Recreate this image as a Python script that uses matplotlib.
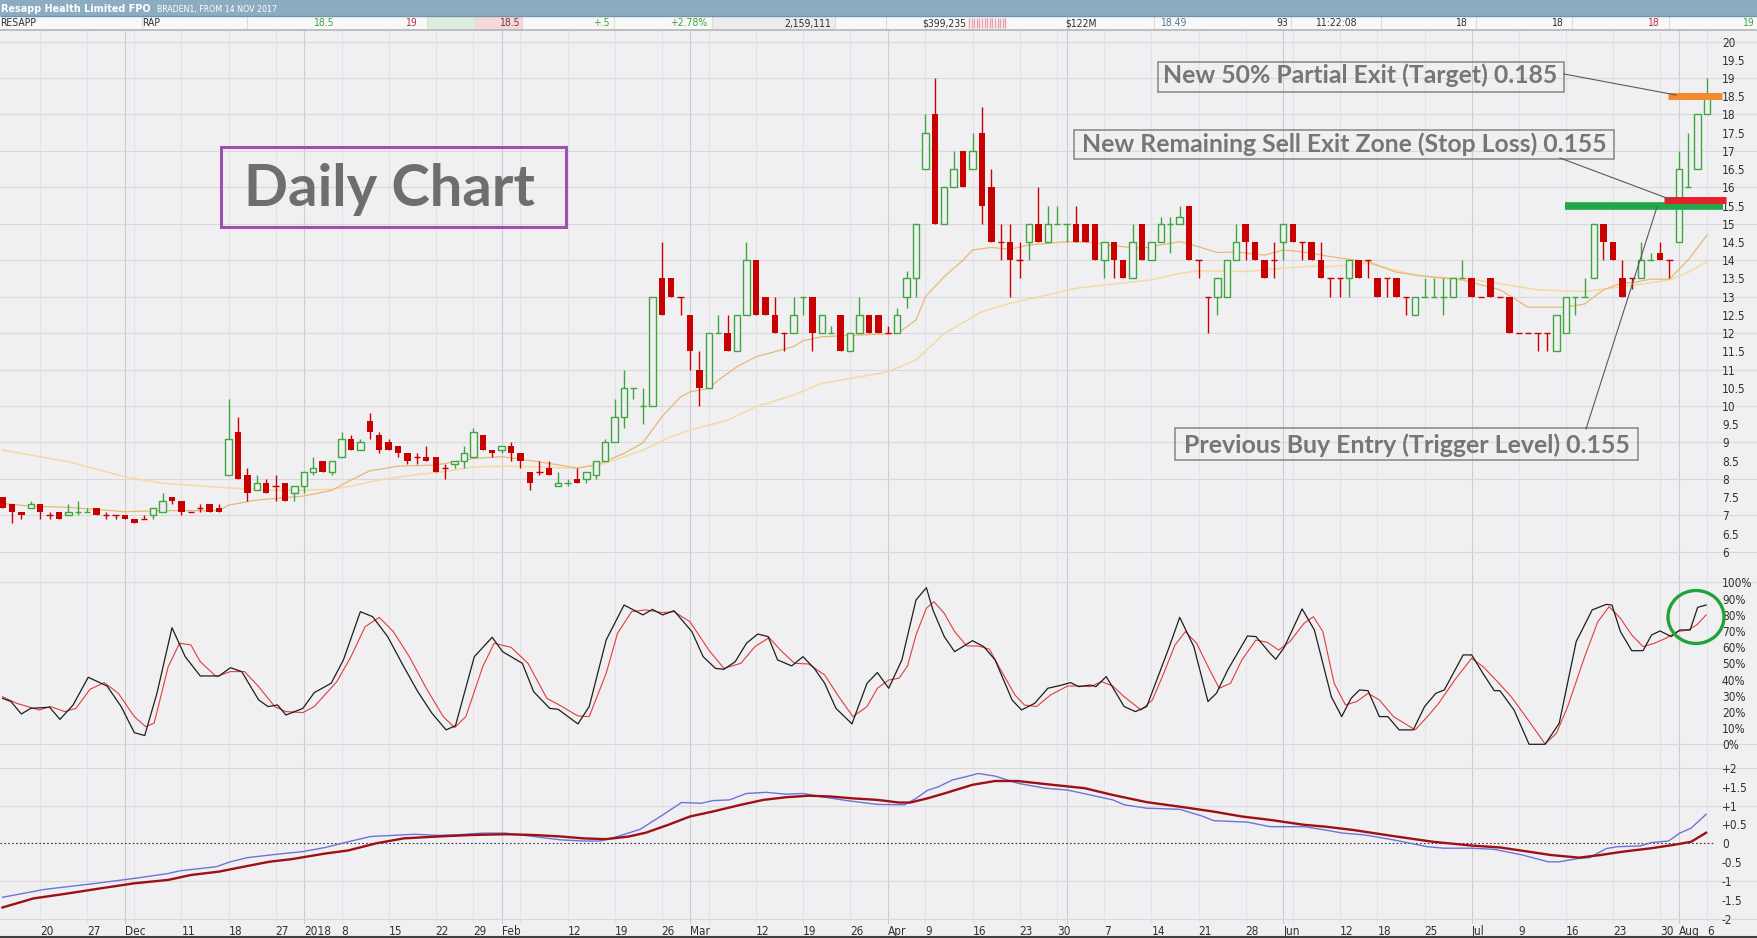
import numpy as np
import pandas as pd
import matplotlib
matplotlib.use('Agg')
import matplotlib.pyplot as plt
from matplotlib import font_manager
from matplotlib.patches import Rectangle, Ellipse
from matplotlib.ticker import FuncFormatter

# ASX trading days shown on the chart
holidays = ['2017-12-25', '2017-12-26', '2018-01-01', '2018-01-26',
            '2018-03-30', '2018-04-02', '2018-04-25', '2018-06-11']
days = pd.bdate_range('2017-11-14', '2018-08-06')
days = days[~days.isin(pd.to_datetime(holidays))]

# daily candles (cents)
opens = [7.5, 7.3, 7.1, 7.2, 7.3, 7.0, 7.1, 7.0, 7.1, 7.1,
         7.2, 7.0, 7.0, 7.0, 6.9, 6.9, 7.0, 7.1, 7.5, 7.4,
         7.1, 7.2, 7.3, 7.2, 8.1, 9.3, 8.1, 7.7, 7.9, 7.8,
         7.9, 7.6, 7.8, 8.2, 8.5, 8.2, 8.6, 9.1, 8.8, 9.6,
         9.2, 9.0, 8.9, 8.7, 8.6, 8.6, 8.6, 8.3, 8.4, 8.5,
         8.6, 9.2, 8.8, 8.8, 8.9, 8.7, 8.2, 8.2, 8.3, 7.8,
         7.9, 8.0, 8.0, 8.1, 8.5, 9.0, 9.7, 10.5, 10.0, 10.0,
         13.5, 13.5, 13.0, 12.5, 11.0, 10.5, 12.0, 12.0, 11.5, 12.5,
         14.0, 13.0, 12.5, 12.0, 12.0, 13.0, 13.0, 12.0, 12.0, 12.5,
         11.5, 12.0, 12.5, 12.5, 12.0, 12.0, 13.0, 13.5, 16.5, 18.0,
         15.0, 16.0, 17.0, 16.5, 17.5, 16.0, 14.5, 14.5, 14.0, 14.5,
         15.0, 14.5, 15.0, 15.0, 15.0, 15.0, 15.0, 14.0, 14.5, 14.0,
         13.5, 15.0, 14.0, 14.5, 15.0, 15.0, 15.5, 14.0, 13.0, 13.0,
         13.0, 14.0, 15.0, 14.5, 14.0, 14.0, 14.5, 15.0, 14.5, 14.5,
         14.0, 13.5, 13.5, 13.5, 14.0, 14.0, 13.5, 13.5, 13.5, 13.0,
         12.5, 13.0, 13.0, 13.0, 13.0, 13.5, 13.5, 13.0, 13.5, 13.0,
         13.0, 12.0, 12.0, 12.0, 12.0, 11.5, 12.0, 13.0, 13.0, 13.5,
         15.0, 14.5, 13.5, 13.5, 13.5, 14.0, 14.2, 14.0, 14.5, 16.0,
         16.5, 18.0]
highs = [7.5, 7.3, 7.1, 7.4, 7.3, 7.1, 7.1, 7.3, 7.4, 7.2,
         7.2, 7.1, 7.0, 7.0, 6.9, 7.0, 7.2, 7.6, 7.5, 7.4,
         7.1, 7.3, 7.3, 7.3, 10.2, 9.7, 8.3, 8.1, 8.0, 8.1,
         7.9, 7.8, 8.2, 8.6, 8.5, 8.5, 9.3, 9.2, 9.1, 9.8,
         9.3, 9.1, 8.9, 8.7, 8.7, 8.9, 8.6, 8.4, 8.5, 8.9,
         9.4, 9.2, 8.8, 8.9, 9.0, 8.7, 8.2, 8.5, 8.5, 8.2,
         8.0, 8.3, 8.2, 8.5, 9.1, 10.2, 11.0, 10.5, 10.5, 13.0,
         14.5, 13.5, 13.0, 12.5, 11.5, 12.0, 12.5, 12.5, 12.5, 14.5,
         14.0, 13.0, 13.0, 12.0, 13.0, 13.0, 13.0, 12.5, 12.2, 12.5,
         12.0, 13.0, 12.5, 12.5, 12.2, 12.7, 13.7, 15.0, 18.0, 19.0,
         16.0, 17.0, 17.0, 17.5, 18.2, 16.5, 15.0, 15.0, 14.5, 15.0,
         16.0, 15.5, 15.5, 15.0, 15.5, 15.0, 15.0, 14.5, 14.5, 14.0,
         15.0, 15.0, 14.5, 15.2, 15.2, 15.5, 15.5, 14.0, 13.0, 13.5,
         14.0, 15.0, 15.0, 14.5, 14.0, 14.5, 15.0, 15.0, 14.5, 14.5,
         14.5, 13.5, 13.5, 14.0, 14.0, 14.0, 13.5, 13.5, 13.5, 13.0,
         13.0, 13.5, 13.5, 13.5, 13.5, 14.0, 13.5, 13.0, 13.5, 13.0,
         13.0, 12.0, 12.0, 12.0, 12.0, 12.5, 13.0, 13.0, 13.5, 15.0,
         15.0, 14.5, 14.0, 13.5, 14.5, 14.2, 14.5, 14.0, 17.0, 17.5,
         18.0, 19.0]
lows = [7.2, 6.8, 6.9, 7.2, 6.9, 6.9, 6.9, 7.0, 7.0, 7.1,
        7.0, 6.9, 6.9, 6.9, 6.8, 6.9, 6.9, 7.1, 7.3, 7.0,
        7.1, 7.1, 7.1, 7.1, 8.1, 8.0, 7.4, 7.7, 7.6, 7.4,
        7.4, 7.4, 7.6, 8.1, 8.2, 8.1, 8.6, 8.8, 8.8, 9.1,
        8.7, 8.8, 8.6, 8.4, 8.4, 8.5, 8.2, 8.0, 8.3, 8.3,
        8.6, 8.8, 8.6, 8.7, 8.5, 8.3, 7.7, 8.1, 8.1, 7.8,
        7.8, 7.9, 7.9, 8.0, 8.5, 9.0, 9.4, 10.2, 9.5, 10.0,
        12.5, 13.0, 12.5, 11.0, 10.0, 10.5, 12.0, 11.5, 11.5, 12.5,
        12.5, 12.5, 12.0, 11.5, 12.0, 12.5, 11.5, 12.0, 12.0, 11.5,
        11.5, 12.0, 12.0, 12.0, 12.0, 12.0, 12.7, 13.0, 16.5, 15.0,
        15.0, 16.0, 16.0, 16.5, 15.0, 14.5, 14.0, 13.0, 13.5, 14.0,
        14.5, 14.5, 15.0, 14.5, 14.5, 14.5, 14.0, 13.5, 13.5, 13.5,
        13.5, 14.0, 14.0, 14.5, 14.2, 15.0, 14.0, 13.5, 12.0, 12.5,
        13.0, 14.0, 14.0, 14.0, 13.5, 13.5, 14.0, 14.5, 14.0, 14.0,
        13.5, 13.0, 13.0, 13.0, 13.5, 13.5, 13.0, 13.0, 13.0, 12.5,
        12.5, 13.0, 13.0, 12.5, 13.0, 13.5, 13.0, 13.0, 13.0, 13.0,
        12.0, 12.0, 12.0, 11.5, 11.5, 11.5, 12.0, 12.5, 13.0, 13.5,
        14.0, 14.0, 13.0, 13.2, 13.5, 14.0, 14.0, 13.5, 14.5, 16.0,
        16.5, 18.0]
closes = [7.2, 7.1, 7.0, 7.3, 7.1, 7.0, 6.9, 7.1, 7.1, 7.1,
          7.0, 7.0, 7.0, 6.9, 6.8, 6.9, 7.2, 7.4, 7.4, 7.1,
          7.1, 7.2, 7.1, 7.1, 9.1, 8.0, 7.6, 7.9, 7.6, 7.8,
          7.4, 7.8, 8.2, 8.3, 8.2, 8.5, 9.1, 8.8, 9.0, 9.3,
          8.8, 8.8, 8.7, 8.5, 8.6, 8.5, 8.2, 8.3, 8.5, 8.7,
          9.3, 8.8, 8.7, 8.9, 8.7, 8.5, 7.9, 8.2, 8.1, 7.9,
          7.9, 7.9, 8.2, 8.5, 9.0, 9.7, 10.5, 10.5, 10.0, 13.0,
          12.5, 13.0, 13.0, 11.5, 10.5, 12.0, 12.0, 11.5, 12.5, 14.0,
          12.5, 12.5, 12.0, 12.0, 12.5, 13.0, 12.0, 12.5, 12.0, 11.5,
          12.0, 12.5, 12.0, 12.0, 12.0, 12.5, 13.5, 15.0, 17.5, 15.0,
          16.0, 16.5, 16.0, 17.0, 15.5, 14.5, 14.5, 14.0, 14.0, 15.0,
          14.5, 15.0, 15.0, 15.0, 14.5, 14.5, 14.0, 14.5, 14.0, 13.5,
          14.5, 14.0, 14.5, 15.0, 15.0, 15.2, 14.0, 14.0, 13.0, 13.5,
          14.0, 14.5, 14.5, 14.0, 13.5, 14.0, 15.0, 14.5, 14.5, 14.0,
          13.5, 13.5, 13.5, 14.0, 13.5, 14.0, 13.0, 13.5, 13.0, 13.0,
          13.0, 13.0, 13.0, 13.0, 13.5, 13.5, 13.0, 13.0, 13.0, 13.0,
          12.0, 12.0, 12.0, 12.0, 12.0, 12.5, 13.0, 13.0, 13.0, 15.0,
          14.5, 14.0, 13.0, 13.5, 14.0, 14.0, 14.0, 14.0, 16.5, 16.0,
          18.0, 18.5]
# unchanged-price days that the chart draws in green
doji_up = [8, 9, 60, 67, 68, 76, 85, 88, 112, 113, 124, 151, 152, 153,
           155, 167, 168, 175, 179]

# moving averages (day index, cents)
fast_ma_x = [0, 3, 7, 13, 17, 23, 24, 27, 32, 35, 37, 39, 42, 46, 50, 53, 57, 61, 63, 66,
             68, 70, 72, 73, 75, 76, 78, 80, 82, 84, 85, 87, 91, 93, 95, 97, 98, 100, 102, 103,
             105, 107, 109, 113, 116, 119, 121, 123, 125, 127, 129, 131, 134, 136, 138, 141, 145, 148, 152, 155,
             159, 162, 166, 168, 170, 172, 173, 175, 177, 179, 181]
fast_ma = [7.33, 7.25, 7.22, 7.10, 7.13, 7.13, 7.28, 7.42, 7.53, 7.69, 7.97, 8.22, 8.35, 8.38, 8.56, 8.61, 8.47, 8.30, 8.38, 8.70,
           8.99, 9.70, 10.25, 10.39, 10.48, 10.71, 11.08, 11.35, 11.49, 11.63, 11.79, 11.90, 11.95, 11.97, 11.99, 12.36, 13.0, 13.55, 14.0, 14.28,
           14.35, 14.30, 14.42, 14.51, 14.48, 14.37, 14.33, 14.42, 14.51, 14.37, 14.21, 14.23, 14.14, 14.28, 14.23, 14.10, 13.96, 13.67, 13.53, 13.46,
           13.19, 12.71, 12.71, 12.80, 13.19, 13.38, 13.38, 13.48, 13.48, 14.01, 14.69]
slow_ma_x = [0, 7, 13, 17, 23, 28, 32, 35, 37, 40, 44, 47, 50, 54, 57, 61, 64, 68, 71, 73,
             77, 80, 84, 87, 91, 94, 97, 100, 104, 107, 111, 114, 118, 122, 125, 127, 132, 136, 139, 141,
             145, 150, 156, 163, 168, 171, 175, 177, 179, 181]
slow_ma = [8.79, 8.47, 8.06, 7.88, 7.77, 7.69, 7.69, 7.72, 7.80, 7.97, 8.12, 8.20, 8.33, 8.35, 8.33, 8.29, 8.43, 8.79, 9.16, 9.34,
           9.61, 9.98, 10.30, 10.62, 10.80, 10.94, 11.26, 11.99, 12.59, 12.82, 13.05, 13.23, 13.35, 13.46, 13.64, 13.71, 13.69, 13.78, 13.84, 13.82,
           13.92, 13.58, 13.48, 13.19, 13.14, 13.24, 13.38, 13.46, 13.67, 13.96]

# stochastic %K / %D (day index, percent)
stoch_k_x = [0, 0.9, 2.0, 3.0, 5.0, 6.1, 7.5, 9.1, 11.1, 12.6, 14.0, 15.1, 16.4, 18.0, 19.4, 21.0, 23.0, 24.2, 25.4, 27.2,
             28.2, 29.2, 30.1, 31.9, 33.1, 34.9, 36.2, 38.0, 39.3, 40.9, 42.6, 44.1, 45.6, 47.1, 48.1, 50.1, 52.0, 53.1, 55.2, 56.4,
             58.1, 59.0, 61.1, 62.3, 64.1, 66.0, 68.0, 69.0, 70.1, 71.3, 73.2, 74.4, 75.7, 76.6, 77.8, 79.0, 80.2, 81.3, 82.3, 83.8,
             85.0, 86.2, 87.3, 88.5, 90.2, 91.8,
             92.9, 94.1, 95.5, 97.0, 98.1, 98.8, 100.0, 101.1, 103.0, 104.2, 105.4, 107.2, 108.2, 109.6, 111.0, 112.5, 113.4, 114.3, 115.5, 116.1,
             117.2, 119.1, 120.3, 121.5, 123.9, 125.0, 126.5, 128.0, 128.9, 130.1, 132.2, 133.1, 134.6, 135.2, 136.1, 138.0, 139.3, 141.1, 142.2, 143.2,
             144.1, 145.0, 146.2, 147.1, 148.3, 149.8, 151.0, 152.2, 153.1, 155.1, 156.0, 157.2, 158.4, 159.0, 160.5, 162.1, 163.8, 165.3, 167.1, 168.8,
             170.3, 170.9, 171.8, 173.0, 174.2, 175.1, 176.0, 177.2, 178.1, 179.2, 180.0, 180.9]
stoch_k = [28.4, 26.4, 18.7, 22.2, 22.9, 15.4, 24.3, 41.4, 36.0, 23.3, 7.2, 5.4, 31.5, 72.0, 54.1, 42.2, 42.2, 47.3, 44.9, 27.4,
           23.3, 24.3, 18.1, 22.2, 31.9, 37.7, 52.1, 81.9, 78.8, 66.5, 48.0, 32.5, 19.2, 8.9, 11.5, 54.1, 66.1, 57.2, 50.0, 32.5,
           22.2, 21.6, 12.6, 23.3, 64.4, 86.0, 79.9, 83.3, 79.9, 82.5, 69.6, 54.1, 46.9, 46.3, 51.0, 62.4, 68.1, 66.5, 52.1, 48.4,
           54.1, 46.9, 37.7, 22.2, 12.6, 37.7,
           44.3, 34.6, 52.1, 89.1, 96.7, 82.9, 66.5, 57.2, 64.0, 60.3, 52.1, 27.4, 21.2, 25.3, 34.6, 36.6, 38.1, 35.6, 36.6, 35.6,
           41.8, 23.3, 20.2, 23.3, 60.3, 78.4, 60.3, 26.4, 31.5, 45.9, 66.9, 66.5, 56.2, 52.5, 59.9, 83.6, 70.6, 29.4, 17.1, 28.4,
           33.6, 33.1, 17.1, 17.1, 8.9, 8.9, 23.3, 31.5, 33.6, 55.2, 55.2, 43.8, 33.1, 33.1, 21.2, 0.0, 0.0, 13.0, 63.4, 83.0,
           86.4, 86.0, 69.6, 57.8, 57.8, 67.5, 70.0, 66.5, 70.6, 70.6, 84.6, 86.0]
stoch_d_x = [0, 1.5, 3.9, 5.1, 6.6, 7.8, 9.3, 10.8, 12.3, 14.0, 15.2, 16.1, 17.6, 18.8, 20.0, 21.0, 22.7, 24.2, 25.7, 27.2,
             28.9, 30.1, 31.9, 33.1, 35.5, 37.0, 38.5, 40.0, 41.5, 43.2, 45.0, 46.8, 48.0, 49.2, 51.0, 52.2, 54.0, 55.8, 57.8, 59.3,
             61.1, 62.3, 64.1, 65.3, 66.8, 68.3, 70.1, 71.3, 73.0, 75.0, 76.6, 78.4, 79.9, 81.4, 82.6, 84.1, 85.6, 87.3, 88.8, 90.3,
             91.8,
             92.9, 94.1, 95.2, 96.1, 97.0, 98.1, 98.9, 100.0, 101.1, 102.4, 103.6, 104.8, 106.0, 107.5, 108.5, 109.8, 111.3, 113.1, 114.3, 115.5,
             116.7, 117.9, 119.1, 120.9, 122.1, 123.3, 124.5, 125.6, 126.8, 128.0, 129.2, 130.4, 131.6, 133.1, 134.3, 135.5, 136.7, 138.2, 139.2, 140.2,
             141.4, 142.6, 143.8, 145.0, 146.2, 147.7, 150.0, 151.3, 152.5, 154.2, 156.0, 157.2, 158.4, 160.2, 162.0, 163.8, 165.0, 166.2, 168.0, 169.4,
             170.6, 171.8, 173.0, 174.2, 175.4, 176.6, 177.8, 179.0, 179.9, 180.9]
stoch_d = [29.4, 25.3, 21.2, 23.3, 20.2, 22.2, 34.0, 38.1, 31.5, 17.1, 10.9, 13.0, 48.0, 62.4, 61.4, 51.0, 41.8, 44.9, 44.9, 35.6,
           23.3, 20.2, 19.6, 23.3, 38.7, 54.1, 72.6, 78.4, 69.6, 54.1, 34.6, 17.1, 10.3, 17.1, 48.0, 62.4, 59.9, 50.0, 28.4, 23.7,
           17.5, 17.1, 43.8, 68.5, 81.9, 83.0, 81.3, 81.9, 75.7, 58.2, 46.9, 50.0, 60.3, 65.9, 58.2, 50.0, 49.6, 42.8, 29.4, 17.1,
           23.3,
           34.6, 39.7, 40.8, 48.4, 67.5, 84.0, 88.1, 80.9, 69.6, 60.7, 60.7, 58.7, 45.9, 30.5, 24.3, 23.3, 30.5, 36.0, 36.0, 35.6,
           38.7, 36.0, 29.4, 21.2, 27.4, 43.8, 61.3, 69.6, 62.4, 48.0, 34.6, 37.7, 52.1, 64.4, 63.0, 58.2, 63.4, 74.7, 78.8, 69.6,
           37.7, 24.3, 26.4, 31.5, 27.4, 17.1, 8.9, 17.1, 25.3, 39.7, 53.1, 48.0, 40.8, 29.4, 15.0, 0.2, 6.8, 23.3, 54.1, 75.7,
           85.0, 77.8, 67.5, 60.3, 62.4, 65.4, 69.6, 70.6, 73.7, 79.9]

# MACD and signal (day index, value)
macd_x = [0, 4.5, 9.3, 14.0, 17.6, 18.8, 22.7, 24.2, 26.0, 29.5, 31.9, 34.3, 36.7, 39.1, 41.5, 43.8, 46.2, 48.6, 51.0, 53.4,
          56.4, 59.3, 61.7, 63.5, 65.3, 67.7, 70.1, 72.1, 74.2, 75.4, 77.2, 79.0, 81.1, 83.2, 85.0, 87.3, 89.7,
          92.9, 95.8, 97.0, 98.2, 99.4, 100.9, 102.4, 103.6, 105.4, 107.8, 110.7, 113.1, 115.5, 117.9, 119.1, 121.5, 125.0, 127.4, 128.6, 132.2,
          134.6, 138.2, 140.5, 142.3, 144.7, 147.7, 151.3, 153.1, 156.0, 158.4, 161.4, 164.1, 165.3, 167.4, 168.5, 170.3, 171.5, 173.9, 175.1, 176.9,
          178.1, 179.3, 180.9]
macd = [-1.43, -1.22, -1.08, -0.93, -0.80, -0.73, -0.62, -0.49, -0.38, -0.28, -0.22, -0.11, 0.04, 0.18, 0.21, 0.24, 0.21, 0.23, 0.27, 0.27,
        0.18, 0.09, 0.06, 0.06, 0.18, 0.37, 0.75, 1.08, 1.06, 1.13, 1.15, 1.32, 1.35, 1.30, 1.32, 1.22, 1.13,
        1.03, 1.02, 1.19, 1.40, 1.50, 1.68, 1.77, 1.85, 1.78, 1.59, 1.46, 1.41, 1.28, 1.15, 1.02, 0.93, 0.90, 0.72, 0.60, 0.56,
        0.44, 0.44, 0.35, 0.27, 0.22, 0.09, -0.09, -0.13, -0.13, -0.16, -0.31, -0.49, -0.49, -0.40, -0.38, -0.14, -0.09, -0.07, 0.02, 0.06,
        0.27, 0.40, 0.77]
signal_x = [0, 3.3, 6.9, 10.5, 14.0, 17.6, 20.0, 23.0, 24.8, 28.3, 30.7, 34.3, 36.7, 39.7, 42.6, 46.2, 49.8, 53.4, 56.4, 59.3,
            61.7, 64.1, 66.5, 68.3, 70.7, 73.0, 75.4, 78.4, 80.8, 83.2, 85.6, 87.9, 90.3,
            92.9, 95.2, 96.4, 98.2, 100.0, 103.0, 105.4, 107.8, 110.7, 114.9, 117.9, 121.5, 125.0, 128.6, 131.6, 134.6, 138.2, 140.5,
            143.5, 147.7, 151.9, 156.0, 159.0, 162.0, 164.4, 167.4, 169.7, 172.1, 175.1, 177.5, 179.3, 180.9]
signal = [-1.70, -1.46, -1.33, -1.19, -1.06, -0.97, -0.84, -0.75, -0.66, -0.49, -0.42, -0.27, -0.19, 0.0, 0.13, 0.18, 0.22, 0.24, 0.22, 0.18,
          0.13, 0.11, 0.18, 0.28, 0.49, 0.71, 0.84, 1.02, 1.15, 1.22, 1.26, 1.24, 1.19,
          1.15, 1.08, 1.08, 1.19, 1.32, 1.55, 1.65, 1.65, 1.57, 1.46, 1.28, 1.09, 0.97, 0.84, 0.71, 0.62, 0.49, 0.44,
          0.35, 0.19, 0.04, -0.06, -0.11, -0.22, -0.31, -0.38, -0.31, -0.22, -0.13, -0.04, 0.04, 0.28]

# date axis labels
tick_dates = ['2017-11-20', '2017-11-27', '2017-12-01', '2017-12-11', '2017-12-18', '2017-12-27',
              '2018-01-02', '2018-01-08', '2018-01-15', '2018-01-22', '2018-01-29', '2018-02-01',
              '2018-02-12', '2018-02-19', '2018-02-26', '2018-03-01', '2018-03-12', '2018-03-19',
              '2018-03-26', '2018-04-03', '2018-04-09', '2018-04-16', '2018-04-23', '2018-04-30',
              '2018-05-07', '2018-05-14', '2018-05-21', '2018-05-28', '2018-06-01', '2018-06-12',
              '2018-06-18', '2018-06-25', '2018-07-02', '2018-07-09', '2018-07-16', '2018-07-23',
              '2018-07-30', '2018-08-01', '2018-08-06']
tick_labels = ['20', '27', 'Dec', '11', '18', '27', '2018', '8', '15', '22', '29', 'Feb', '12', '19',
               '26', 'Mar', '12', '19', '26', 'Apr', '9', '16', '23', '30', '7', '14', '21', '28',
               'Jun', '12', '18', '25', 'Jul', '9', '16', '23', '30', 'Aug', '6']

# trade levels marked on the chart
target_level = 18.5
stop_level = 15.5
entry_level = 15.5

# quote strip
quote_right = ['18.5', '19', '18.5', '+.5', '+2.78%', '2,159,111', '$399,235', '$122M',
               '18.49', '93', '18', '18', '18', '19']

BG = '#F0F0F2'
GRID = '#D8D8DD'
MGRID = '#CCCCD1'
WGRID = '#E3E3E7'
RED = '#C80000'
GREEN = '#3DA63D'
LABEL = '#303030'

names = {f.name for f in font_manager.fontManager.ttflist}
NARROW = 'Liberation Sans Narrow' if 'Liberation Sans Narrow' in names else 'DejaVu Sans'
ANN = 'Lato' if 'Lato' in names else 'DejaVu Sans'
plt.rcParams['font.family'] = [NARROW, 'DejaVu Sans']
plt.rcParams['font.stretch'] = 'condensed'

x = np.arange(len(closes))
o, h, l, c = (np.array(v) for v in (opens, highs, lows, closes))
month_idx = np.flatnonzero(np.r_[False, days.month[1:] != days.month[:-1]])
week_idx = np.flatnonzero(np.r_[False, np.diff(days.dayofweek) < 0])
tick_idx = days.get_indexer(pd.to_datetime(tick_dates))

W, H = 1757.0, 938.0
fig = plt.figure(figsize=(W / 100, H / 100), dpi=100)
fig.patch.set_facecolor(BG)


def panel(top, bottom):
    a = fig.add_axes([0, 1 - bottom / H, 1, (bottom - top) / H])
    a.set_facecolor(BG)
    a.set_xlim(-0.265, 186.3)
    for s in a.spines.values():
        s.set_visible(False)
    a.yaxis.tick_right()
    a.tick_params(axis='y', length=0, pad=-25.2, labelsize=8.5, labelcolor=LABEL)
    a.tick_params(axis='x', length=0)
    a.set_xticks([])
    for w in week_idx:
        if w not in month_idx:
            a.axvline(w, color=WGRID, lw=0.8, zorder=0)
    for m in month_idx:
        a.axvline(m, color=MGRID, lw=0.8, zorder=0)
    return a


# price panel
ax_p = panel(31, 566)
ax_p.set_ylim(5.61, 20.29)
ax_p.set_yticks(np.arange(6, 20.01, 0.5))
ax_p.yaxis.set_major_formatter(FuncFormatter(lambda v, _: f'{v:g}'))
for v in range(6, 21):
    ax_p.axhline(v, color=GRID, lw=0.8, zorder=0)

ax_p.plot(slow_ma_x, slow_ma, color='#F4D9A2', lw=1.1, zorder=2)
ax_p.plot(fast_ma_x, fast_ma, color='#E6B878', lw=0.9, zorder=2)

flat = o == c
up = (c > o) | (flat & np.isin(x, doji_up))
col = np.where(up, GREEN, RED)
ax_p.vlines(x, l, h, colors=col, lw=1.0, zorder=3)
gb = up & ~flat
rb = ~up & ~flat
ax_p.bar(x[gb], (c - o)[gb], bottom=o[gb], width=0.68, facecolor=BG,
         edgecolor=GREEN, lw=1.0, zorder=4)
ax_p.bar(x[rb], (o - c)[rb], bottom=c[rb], width=0.68, color=RED, lw=0, zorder=4)
ax_p.hlines(o[flat], x[flat] - 0.34, x[flat] + 0.34, colors=col[flat], lw=1.0, zorder=4)

ax_p.hlines(entry_level, 165.9, 182.7, color='#22A64A', lw=5.5, zorder=6)
ax_p.hlines(stop_level + 0.14, 176.4, 183.0, color='#E5202A', lw=5, zorder=7)
ax_p.hlines(target_level, 176.8, 182.6, color='#F28A30', lw=5, zorder=7)

# stochastic panel
ax_s = panel(566, 757)
ax_s.set_ylim(-7.84, 110.1)
ax_s.set_yticks(range(0, 101, 10))
ax_s.yaxis.set_major_formatter(FuncFormatter(lambda v, _: f'{v:g}%'))
for v in (0, 100):
    ax_s.axhline(v, color=GRID, lw=0.8, zorder=0)
ax_s.plot(stoch_d_x, stoch_d, color='#E23C3C', lw=0.8, zorder=3)
ax_s.plot(stoch_k_x, stoch_k, color='#1E1E1E', lw=0.9, zorder=4)

# MACD panel
ax_m = panel(757, 924)
ax_m.set_ylim(-2.138, 2.286)
ax_m.set_yticks(np.arange(-2, 2.01, 0.5))
ax_m.yaxis.set_major_formatter(FuncFormatter(lambda v, _: '0' if abs(v) < 1e-9 else f'{v:+g}'))
for v in (-2, -1, 1, 2):
    ax_m.axhline(v, color=GRID, lw=0.8, zorder=0)
ax_m.hlines(0, -0.3, 181.6, color='#333333', lw=0.8, linestyles=(0, (1.5, 2)), zorder=1)
ax_m.plot(macd_x, macd, color='#6C74D8', lw=1.0, zorder=3)
ax_m.plot(signal_x, signal, color='#9E0F16', lw=1.7, zorder=4)
ax_m.set_xticks(tick_idx)
ax_m.set_xticklabels(tick_labels, ha='left')
ax_m.tick_params(axis='x', length=0, pad=1, labelsize=8.5, labelcolor=LABEL)

# overlay in pixel units: quote strip and annotations
ov = fig.add_axes([0, 0, 1, 1], zorder=20)
ov.set_xlim(0, W)
ov.set_ylim(H, 0)
ov.axis('off')
renderer = fig.canvas.get_renderer()

ov.add_patch(Rectangle((0, 0), W, 16, facecolor='#8CACC2', edgecolor='none'))
ov.add_patch(Rectangle((0, 16), W, 14.5, facecolor='#F8F8F8', edgecolor='none'))
ov.add_patch(Rectangle((426.5, 16.5), 48.5, 13.5, facecolor='#DCEFDC', edgecolor='none'))
ov.add_patch(Rectangle((475, 16.5), 47, 13.5, facecolor='#F6D8DA', edgecolor='none'))
ov.add_patch(Rectangle((712, 16.5), 123, 13.5, facecolor='#ECECEC', edgecolor='none'))
ov.vlines(np.arange(969, 1007, 2.6), 18.5, 28.5, color='#E8A0AC', lw=1.0)
ov.vlines([142, 247, 426.5, 475, 522, 614, 712, 835, 885.6, 1067, 1154, 1291, 1380.5,
           1475.6, 1572, 1668.6], 16.5, 30, color='#DCDCDC', lw=0.8)
ov.hlines(16, 0, W, color='#7393AA', lw=1)
ov.hlines(30.5, 0, W, color='#B5B5B5', lw=1.2)
ov.hlines(937, 0, W, color='#404040', lw=1.5)

title = ov.text(1, 8.5, 'Resapp Health Limited FPO', color='white', fontweight='bold',
                fontsize=9.5, va='center')
title.set_fontsize(9.5 * 150 / title.get_window_extent(renderer).width)
sub = ov.text(157, 9.5, 'BRADEN1, FROM 14 NOV 2017', color='white', fontsize=6, va='center')
sub.set_fontsize(6 * 120 / sub.get_window_extent(renderer).width)
ov.text(0, 23.5, 'RESAPP', color=LABEL, fontsize=7.5, va='center')
ov.text(142, 23.5, 'RAP', color=LABEL, fontsize=7.5, va='center')
ov.text(1315, 23.5, '11:22:08', color=LABEL, fontsize=7.5, va='center')
q_right = [334, 417, 519.5, 610, 707, 831, 966.7, 1097, 1186.5, 1288, 1467, 1563, 1658.5, 1753.6]
q_col = ['#3DA63D', '#B03040', '#7A3040', '#3DA63D', '#3DA63D', LABEL, LABEL, LABEL,
         '#5A7890', LABEL, LABEL, LABEL, '#B03040', '#3DA63D']
for s, xr, cc in zip(quote_right, q_right, q_col):
    ov.text(xr, 23.5, s, color=cc, fontsize=7.5, va='center', ha='right')


def fit_text(x0, base, s, width, color, size=20):
    t = ov.text(x0, base, s, fontsize=size, fontweight='bold', color=color,
                family=ANN, ha='left', va='baseline')
    t.set_fontsize(size * width / t.get_window_extent(renderer).width)
    return t


ov.add_patch(Rectangle((220.7, 146.8), 345.3, 80.7, fill=False, edgecolor='#9E4FB2', lw=2.2))
fit_text(244, 206, 'Daily Chart', 291, '#6E6E6E')

boxes = [((1157.5, 61.6, 406.5, 30.4), (1163, 83, 395), 'New 50% Partial Exit (Target) 0.185'),
         ((1073.5, 130, 540, 29), (1082, 151.7, 525), 'New Remaining Sell Exit Zone (Stop Loss) 0.155'),
         ((1175, 428, 463, 32.5), (1184, 453, 446), 'Previous Buy Entry (Trigger Level) 0.155')]
for (bx, by, bw, bh), (tx, ty, tw), s in boxes:
    ov.add_patch(Rectangle((bx, by), bw, bh, fill=False, edgecolor='#858585', lw=1.1))
    fit_text(tx, ty, s, tw, '#767676')

ov.plot([1564, 1676], [74, 95], color='#5A5A5A', lw=0.8)
ov.plot([1560, 1672], [158, 200], color='#5A5A5A', lw=0.8)
ov.plot([1586, 1657], [429, 207], color='#5A5A5A', lw=0.8)
ov.add_patch(Ellipse((1696, 617), 56, 53, fill=False, edgecolor='#22A33A', lw=2.4))

fig.savefig('out.png', dpi=100, facecolor=BG)
